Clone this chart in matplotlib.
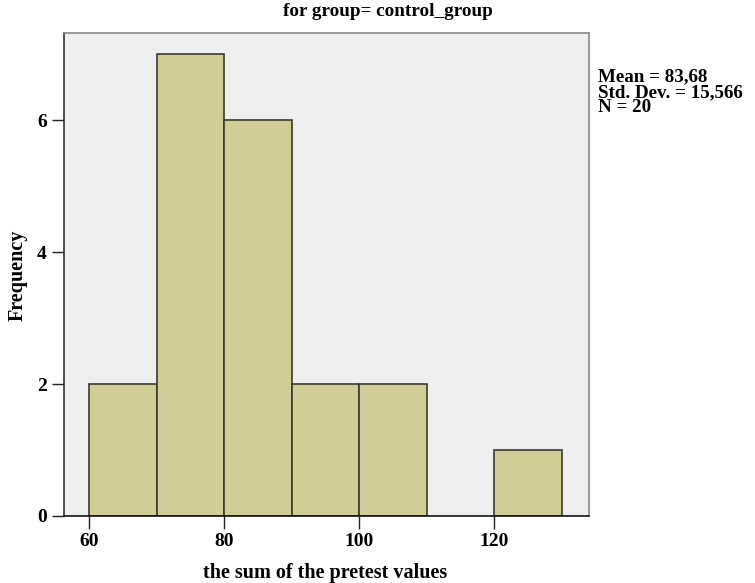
import numpy as np
import matplotlib
matplotlib.use("Agg")
import matplotlib.pyplot as plt

# histogram bins and counts
bin_edges = [60, 70, 80, 90, 100, 110, 120, 130]
counts = [2, 7, 6, 2, 2, 0, 1]
x_ticks = [60, 80, 100, 120]
y_ticks = [0, 2, 4, 6]
stats_lines = ["Mean = 83,68", "Std. Dev. = 15,566", "N = 20"]

plt.rcParams['font.family'] = ['Liberation Serif', 'DejaVu Serif']
plt.rcParams['font.weight'] = 'bold'

fig = plt.figure(figsize=(7.55, 5.83), dpi=100)
W, H = 755.0, 583.0
ax = fig.add_axes([63.5 / W, 1 - 516 / H, (589 - 63.5) / W, (516 - 33) / H])
ax.set_facecolor('#efefef')

lefts = np.array(bin_edges[:-1])
widths = np.diff(bin_edges)
for l, w, c in zip(lefts, widths, counts):
    if c > 0:
        ax.bar(l, c, width=w, align='edge', color='#d2cd97',
               edgecolor='#3a3a2a', linewidth=1.2, zorder=2)

ax.set_xlim(56.2, 134.0)
ax.set_ylim(0, 7.32)
ax.set_xticks(x_ticks)
ax.set_yticks(y_ticks)
ax.tick_params(direction='out', length=9, width=1.0, color='#222222',
               labelsize=14, pad=3)
for lab in ax.get_xticklabels() + ax.get_yticklabels():
    lab.set_fontweight('bold')

ax.spines['left'].set_color('#333333')
ax.spines['bottom'].set_color('#111111')
ax.spines['top'].set_color('#888888')
ax.spines['right'].set_color('#888888')
for s in ax.spines.values():
    s.set_linewidth(1.2)

# axis titles placed where SPSS puts them
fig.text(325 / W, 1 - 573 / H, 'the sum of the pretest values', ha='center', va='center',
         fontsize=14.5, fontweight='bold')
fig.text(18 / W, 1 - 275 / H, 'Frequency', ha='center', va='center', rotation=90,
         fontsize=14.5, fontweight='bold')

fig.text(388 / W, 1 - 12 / H, 'for group= control_group', ha='center', va='center',
         fontsize=13.8, fontweight='bold')
for i, line in enumerate(stats_lines):
    fig.text(598 / W, 1 - (77 + 15.5 * i) / H, line, ha='left', va='center',
             fontsize=13.7, fontweight='bold')

fig.savefig('out.png', dpi=100)
